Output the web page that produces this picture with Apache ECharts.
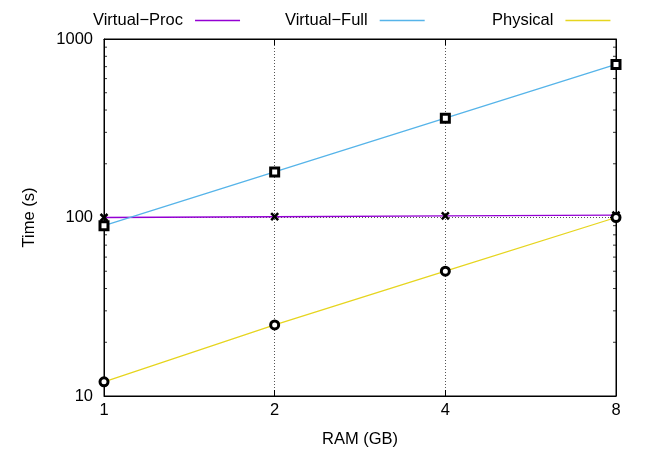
<!DOCTYPE html>
<html><head><meta charset="utf-8">
<script src="https://cdn.jsdelivr.net/npm/echarts@6/dist/echarts.min.js"></script>
<style>html,body{margin:0;padding:0;background:#fff;overflow:hidden}#c{width:648px;height:449px}</style>
</head><body><div id="c"></div>
<script>
const ramGB = [1, 2, 4, 8];
const xTicks = [1, 2, 4, 8];
const virtualProc = [100, 101, 102, 103];
const virtualFull = [90, 180, 360, 720];
const physical = [12, 25, 50, 100];
const yMinorTicks = [20,30,40,50,60,70,80,90,200,300,400,500,600,700,800,900];
const names = ['Virtual\u2212Proc', 'Virtual\u2212Full', 'Physical'];
const colors = ['#9400D3', '#56B4E9', '#E6D51F'];

const FONT = 'Liberation Sans';
const FS = 16.5;
const chart = echarts.init(document.getElementById('c'));
const crossPath = 'path://M0,0L10,10M10,0L0,10';
function pairs(ys){ return ramGB.map((x,i)=>[x, ys[i]]); }

function legendAt(i, left){
  return {
    data: [{name: names[i], itemStyle: {color: colors[i], borderWidth: 0}}],
    left: left, top: 7, align: 'right', icon: 'rect',
    itemWidth: 45, itemHeight: 1.5,
    textStyle: {fontFamily: FONT, fontSize: FS, color: '#000', padding: [0, 7, 0, 0]},
    selectedMode: false
  };
}

const axisCommon = {
  type: 'log', axisLine: {show: true, lineStyle: {color: '#000', width: 1}},
};

function minorTickSeries(xEdge, offset){
  return {
    type: 'scatter', silent: true, clip: false, z: 1,
    data: yMinorTicks.map(v => [xEdge, v]),
    symbol: 'rect', symbolSize: [3, 1], symbolOffset: [offset, 0],
    itemStyle: {color: '#000'}
  };
}

chart.setOption({
  animation: false,
  legend: [legendAt(0, 88), legendAt(1, 280), legendAt(2, 487)],
  grid: {left: 104, right: 32, top: 39, bottom: 53, show: true, borderColor: '#000', borderWidth: 1,
    containLabel: false, outerBoundsMode: 'none'},
  xAxis: [{
    ...axisCommon, logBase: 2, min: 1, max: 8, position: 'bottom',
    name: 'RAM (GB)', nameLocation: 'middle', nameGap: 35,
    nameTextStyle: {fontFamily: FONT, fontSize: FS, color: '#000'},
    axisTick: {show: true, inside: true, length: 6, lineStyle: {color: '#000'}},
    axisLabel: {fontFamily: FONT, fontSize: FS, color: '#000', margin: 6,
      formatter: v => xTicks.includes(Math.round(v)) ? String(Math.round(v)) : ''},
    splitLine: {show: true, lineStyle: {color: '#555', type: [1, 2], width: 1}},
    minorTick: {show: false}
  }, {
    ...axisCommon, logBase: 2, min: 1, max: 8, position: 'top',
    axisTick: {show: true, inside: true, length: 6, lineStyle: {color: '#000'}},
    axisLabel: {show: false}, splitLine: {show: false}
  }],
  yAxis: [{
    ...axisCommon, logBase: 10, min: 10, max: 1000, position: 'left',
    name: 'Time (s)', nameLocation: 'middle', nameGap: 66,
    nameTextStyle: {fontFamily: FONT, fontSize: FS, color: '#000'},
    axisTick: {show: true, inside: true, length: 6, lineStyle: {color: '#000'}},
    axisLabel: {fontFamily: FONT, fontSize: FS, color: '#000', margin: 11,
      formatter: v => String(Math.round(v))},
    splitLine: {show: true, lineStyle: {color: '#555', type: [1, 2], width: 1}}
  }, {
    ...axisCommon, logBase: 10, min: 10, max: 1000, position: 'right',
    axisTick: {show: true, inside: true, length: 6, lineStyle: {color: '#000'}},
    axisLabel: {show: false}, splitLine: {show: false}
  }],
  series: [
    minorTickSeries(1, 1.5),
    minorTickSeries(8, -1.5),
    {
      name: names[0], type: 'line', data: pairs(virtualProc), z: 3,
      lineStyle: {color: colors[0], width: 1.3},
      symbol: crossPath, symbolSize: 7,
      itemStyle: {color: '#000', borderColor: '#000', borderWidth: 2.5}
    },
    {
      name: names[1], type: 'line', data: pairs(virtualFull), z: 3,
      lineStyle: {color: colors[1], width: 1.3},
      symbol: 'rect', symbolSize: 8,
      itemStyle: {color: '#fff', borderColor: '#000', borderWidth: 3}
    },
    {
      name: names[2], type: 'line', data: pairs(physical), z: 3,
      lineStyle: {color: colors[2], width: 1.3},
      symbol: 'circle', symbolSize: 8,
      itemStyle: {color: '#fff', borderColor: '#000', borderWidth: 3}
    }
  ]
});
</script></body></html>
